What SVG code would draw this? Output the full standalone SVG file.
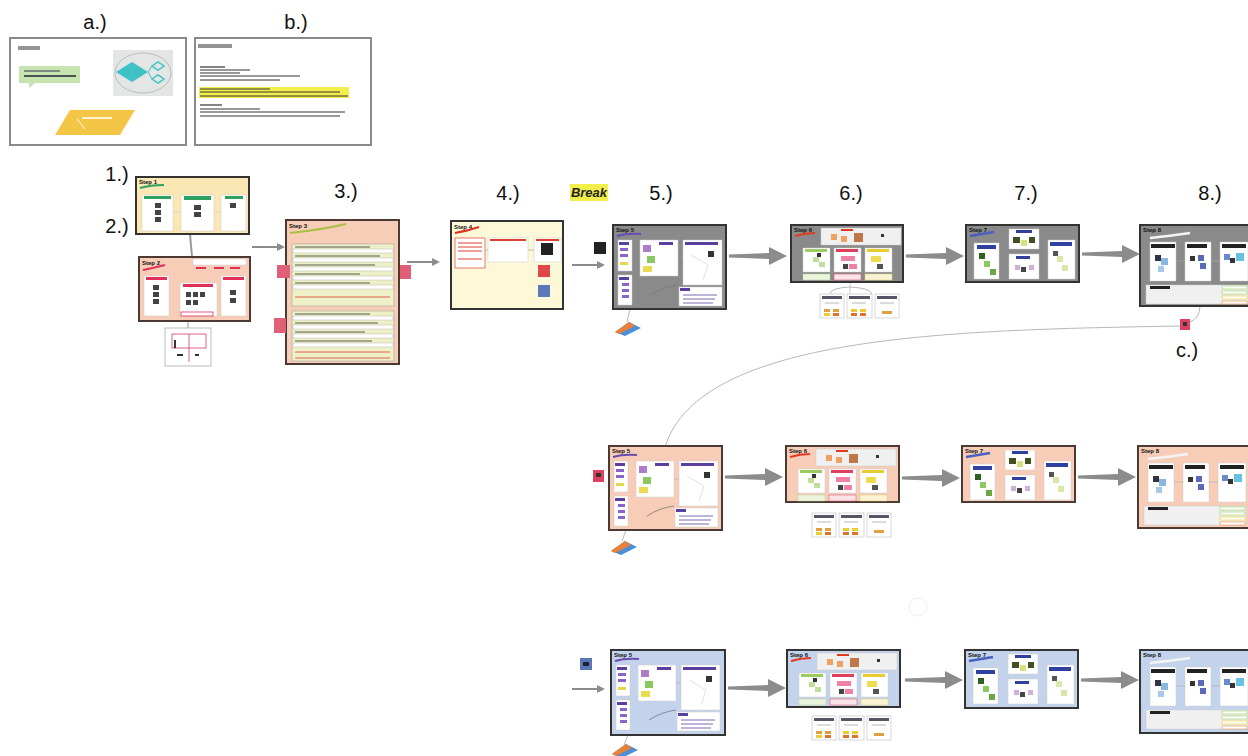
<svg xmlns="http://www.w3.org/2000/svg" xmlns:xlink="http://www.w3.org/1999/xlink" width="1248" height="756" viewBox="0 0 1248 756">
<style>
.lbl{font-family:"Liberation Sans",Arial,sans-serif;font-size:20px;fill:#111;text-anchor:middle}
.st{font-family:"Liberation Sans",Arial,sans-serif;font-size:6px;font-weight:bold;fill:#111}
.slide{fill:#fff;stroke:#8a8a8a;stroke-width:2}
.gray{fill:#8a8a8a;stroke:#333;stroke-width:2}
.salmon{fill:#f7cdb8;stroke:#4a3a33;stroke-width:2}
.blue{fill:#c4d3ec;stroke:#333;stroke-width:2}
.yel{fill:#fbe7b3;stroke:#333;stroke-width:2}
.pyel{fill:#fdf8d8;stroke:#333;stroke-width:2}
.pw{fill:#fff;stroke:#ccc;stroke-width:0.5}
.pl{fill:#f0f0f0;stroke:#ccc;stroke-width:0.5}
.conn{fill:none;stroke:#b8b8b8;stroke-width:1}
.arr{fill:#8c8c8c}
.txl{stroke:#333;stroke-width:1.2}
</style>
<defs>
<path id="bigarrow" d="M0,-1.5 L40,-3 L40,-9 L58,0 L40,9 L40,3 L0,1.5Z"/>
<path id="smallarrow" d="M0,-1 L25,-1 L25,-4 L33,0 L25,4 L25,1 L0,1Z"/>
<symbol id="in5" overflow="visible">
<path d="M4,11 q10,-3 24,-2" stroke="#6b4bb0" stroke-width="2" fill="none"/>
<rect class="pw" x="5" y="15" width="14" height="31"/>
<rect x="6" y="17" width="10" height="3" fill="#5a3f9e"/><rect x="7" y="23" width="8" height="3" fill="#8a64c8"/><rect x="7" y="29" width="8" height="3" fill="#8a64c8"/><rect x="7" y="37" width="8" height="3" fill="#e8d84a"/>
<rect class="pw" x="5" y="50" width="14" height="30"/>
<rect x="6" y="52" width="10" height="3" fill="#5a3f9e"/><rect x="9" y="58" width="7" height="3" fill="#8a64c8"/><rect x="9" y="64" width="7" height="3" fill="#8a64c8"/><rect x="9" y="70" width="7" height="3" fill="#8a64c8"/>
<rect class="pw" x="27" y="15" width="38" height="36"/>
<rect x="30" y="20" width="8" height="7" fill="#b07cc8"/><rect x="34" y="31" width="8" height="7" fill="#8cc860"/><rect x="30" y="41" width="9" height="6" fill="#eadb50"/>
<rect x="46" y="17" width="14" height="3" fill="#5a3f9e"/>
<rect class="pw" x="70" y="15" width="39" height="45"/>
<rect x="72" y="17" width="33" height="3" fill="#5a3f9e"/><rect x="95" y="26" width="6" height="6" fill="#333"/>
<path d="M78,30 L95,40 L90,55" stroke="#ccc" stroke-width="0.6" fill="none"/>
<rect class="pw" x="66" y="62" width="43" height="19"/>
<rect x="67" y="63" width="10" height="3" fill="#5a3f9e"/>
<line x1="70" y1="70" x2="104" y2="70" stroke="#5a3f9e" stroke-width="0.8"/><line x1="70" y1="74" x2="102" y2="74" stroke="#5a3f9e" stroke-width="0.8"/><line x1="70" y1="78" x2="100" y2="78" stroke="#5a3f9e" stroke-width="0.8"/>
<path d="M38,70 Q50,62 65,60" stroke="#777" stroke-width="0.8" fill="none"/>
<line x1="65" y1="33" x2="70" y2="33" stroke="#aaa" stroke-width="0.6"/>
</symbol>
<symbol id="in6" overflow="visible">
<path d="M4,11 q10,-3 20,-3" stroke="#e03a20" stroke-width="2" fill="none"/>
<rect class="pl" x="30" y="3" width="80" height="17"/>
<rect x="50" y="4" width="12" height="2" fill="#e03a20"/>
<rect x="40" y="9" width="6" height="6" fill="#f0a060"/><rect x="50" y="11" width="6" height="6" fill="#f0a060"/><rect x="63" y="8" width="9" height="9" fill="#c0784a"/><rect x="90" y="9" width="3" height="3" fill="#333"/>
<rect class="pw" x="12" y="23" width="27" height="24"/><rect class="pw" x="43" y="23" width="27" height="24"/><rect class="pw" x="74" y="23" width="27" height="24"/>
<rect x="14" y="24" width="22" height="3" fill="#9ccc60"/><rect x="45" y="24" width="22" height="3" fill="#e04060"/><rect x="76" y="24" width="22" height="3" fill="#e8cc30"/>
<rect x="22" y="32" width="6" height="5" fill="#bfe09a"/><rect x="28" y="37" width="6" height="5" fill="#bfe09a"/><rect x="26" y="28" width="4" height="4" fill="#333"/>
<rect x="50" y="31" width="8" height="5" fill="#f080a8"/><rect x="58" y="31" width="6" height="5" fill="#f080a8"/><rect x="52" y="39" width="5" height="5" fill="#444"/><rect x="58" y="39" width="8" height="5" fill="#f080a8"/>
<rect x="80" y="31" width="10" height="6" fill="#f0dc50"/><rect x="86" y="39" width="6" height="5" fill="#555"/>
<rect x="12" y="49" width="27" height="6" fill="#eaf4dc" stroke="#b8d89a" stroke-width="0.5"/><rect x="43" y="49" width="27" height="6" fill="#fbe4e8" stroke="#e06070" stroke-width="0.6"/><rect x="74" y="49" width="27" height="6" fill="#fbf4d4" stroke="#e0cc70" stroke-width="0.5"/>
</symbol>
<symbol id="in7" overflow="visible">
<path d="M4,11 q12,-2 24,-4" stroke="#4a5fc0" stroke-width="2.5" fill="none"/>
<rect class="pw" x="8" y="18" width="25" height="36"/><rect x="11" y="20" width="19" height="4" fill="#3040a0"/>
<rect x="13" y="28" width="6" height="6" fill="#306020"/><rect x="18" y="36" width="6" height="6" fill="#8cc860"/><rect x="24" y="44" width="6" height="6" fill="#6aa840"/>
<rect class="pw" x="43" y="4" width="30" height="20"/><rect x="50" y="5" width="16" height="3" fill="#3040a0"/>
<rect x="47" y="12" width="7" height="6" fill="#405020"/><rect x="55" y="15" width="6" height="6" fill="#d8e080"/><rect x="63" y="12" width="6" height="6" fill="#405020"/>
<rect class="pw" x="43" y="29" width="30" height="25"/><rect x="50" y="31" width="14" height="3" fill="#3040a0"/>
<rect x="49" y="40" width="5" height="5" fill="#d0b0d8"/><rect x="55" y="42" width="5" height="5" fill="#444"/><rect x="63" y="40" width="5" height="5" fill="#d0b0d8"/>
<rect class="pw" x="82" y="15" width="27" height="39"/><rect x="84" y="17" width="22" height="4" fill="#3040a0"/>
<rect x="87" y="26" width="5" height="5" fill="#555"/><rect x="91" y="31" width="6" height="6" fill="#d8e8a8"/><rect x="96" y="40" width="6" height="6" fill="#d8e8a8"/>
</symbol>
<symbol id="in8" overflow="visible">
<path d="M10,13 q20,-2 40,-5" stroke="#f4f4f4" stroke-width="2.5" fill="none"/>
<rect class="pw" x="10" y="17" width="26" height="39"/><rect class="pw" x="45" y="17" width="26" height="39"/><rect class="pw" x="80" y="17" width="28" height="39"/>
<rect x="11" y="19" width="24" height="4" fill="#222"/><rect x="47" y="19" width="20" height="4" fill="#222"/><rect x="82" y="19" width="24" height="4" fill="#222"/>
<rect x="15" y="30" width="6" height="6" fill="#334"/><rect x="21" y="33" width="7" height="7" fill="#88b8e0"/><rect x="18" y="41" width="6" height="6" fill="#a8c8e8"/>
<rect x="50" y="31" width="5" height="5" fill="#333"/><rect x="58" y="30" width="6" height="6" fill="#5a6ab8"/><rect x="60" y="38" width="6" height="6" fill="#5a6ab8"/>
<rect x="84" y="29" width="6" height="6" fill="#6a8ad0"/><rect x="90" y="33" width="5" height="5" fill="#333"/><rect x="96" y="28" width="8" height="8" fill="#6ac0e0"/>
<line x1="36" y1="36" x2="45" y2="36" stroke="#aaa" stroke-width="0.6"/><line x1="71" y1="36" x2="80" y2="36" stroke="#aaa" stroke-width="0.6"/>
<rect class="pl" x="6" y="60" width="102" height="19"/><rect x="10" y="61" width="20" height="3" fill="#222"/>
<rect x="82" y="61" width="25" height="3" fill="#fff" stroke="#9ccc60" stroke-width="0.6"/><rect x="82" y="66" width="25" height="3" fill="#fff" stroke="#9ccc60" stroke-width="0.6"/><rect x="82" y="71" width="25" height="3" fill="#fff" stroke="#e8cc30" stroke-width="0.6"/><rect x="82" y="76" width="25" height="3" fill="#fff" stroke="#e09050" stroke-width="0.6"/>
</symbol>
<symbol id="cards" overflow="visible">
<rect x="0" y="0" width="24" height="24" fill="#fff" stroke="#bbb" stroke-width="0.6"/><rect x="27" y="0" width="25" height="24" fill="#fff" stroke="#bbb" stroke-width="0.6"/><rect x="55" y="0" width="24" height="24" fill="#fff" stroke="#bbb" stroke-width="0.6"/>
<rect x="2" y="2" width="20" height="3" fill="#556"/><rect x="29" y="2" width="21" height="3" fill="#556"/><rect x="57" y="2" width="20" height="3" fill="#556"/>
<rect x="4" y="15" width="6" height="3" fill="#e0a040"/><rect x="13" y="15" width="6" height="3" fill="#e0a040"/><rect x="4" y="19" width="6" height="3" fill="#e8cc30"/><rect x="13" y="19" width="6" height="3" fill="#e07030"/>
<rect x="31" y="15" width="6" height="3" fill="#e8cc30"/><rect x="40" y="15" width="6" height="3" fill="#e8cc30"/><rect x="31" y="19" width="6" height="3" fill="#e07030"/><rect x="40" y="19" width="6" height="3" fill="#e07030"/>
<rect x="62" y="17" width="10" height="3" fill="#e0a040"/>
<line x1="5" y1="9" x2="19" y2="9" stroke="#888" stroke-width="0.6"/><line x1="32" y1="9" x2="46" y2="9" stroke="#888" stroke-width="0.6"/><line x1="60" y1="9" x2="74" y2="9" stroke="#888" stroke-width="0.6"/>
</symbol>
<symbol id="kite" overflow="visible">
<path d="M0,10 L14,0 L26,6 L10,14Z" fill="#4a90d8"/><path d="M0,10 L14,0 L20,4 L4,12Z" fill="#e8803a"/>
</symbol>
</defs>

<g id="labels">
<text class="lbl" x="95" y="29">a.)</text>
<text class="lbl" x="296" y="29">b.)</text>
<text class="lbl" x="117" y="181">1.)</text>
<text class="lbl" x="117" y="233">2.)</text>
<text class="lbl" x="346" y="198">3.)</text>
<text class="lbl" x="508" y="200">4.)</text>
<rect x="570" y="184" width="38" height="17" fill="#f2ee4a"/>
<text x="589" y="197" font-family="Liberation Sans,Arial,sans-serif" font-size="13" font-style="italic" font-weight="bold" fill="#222" text-anchor="middle">Break</text>
<text class="lbl" x="661" y="200">5.)</text>
<text class="lbl" x="851" y="200">6.)</text>
<text class="lbl" x="1026" y="200">7.)</text>
<text class="lbl" x="1210" y="200">8.)</text>
<text class="lbl" x="1187" y="357">c.)</text>
</g>

<g id="slide-a">
<rect class="slide" x="10" y="38" width="176" height="107"/>
<rect x="18" y="46" width="22" height="4" fill="#666" opacity="0.7"/>
<path d="M19,66 h61 v17 h-45 l-6,5 v-5 h-10z" fill="#c6e3b0"/>
<line x1="24" y1="71" x2="60" y2="71" stroke="#335" stroke-width="1.2"/>
<line x1="24" y1="76" x2="76" y2="76" stroke="#223" stroke-width="1.6"/>
<rect x="113" y="50" width="60" height="46" fill="#e4e6e6"/>
<ellipse cx="143" cy="73" rx="28" ry="20" fill="none" stroke="#bbb" stroke-width="1"/>
<path d="M116,72 L132,62 L148,72 L132,82Z" fill="#3ec2c6"/>
<path d="M152,66 l6,-4 l6,4 l-6,4z M152,79 l6,-4 l6,4 l-6,4z" fill="none" stroke="#3ec2c6" stroke-width="1.5"/>
<path d="M148,72 L152,66 M148,72 L152,79" stroke="#3ec2c6" stroke-width="1"/>
<path d="M70,110 L135,110 L120,135 L55,135Z" fill="#f4c646"/>
<line x1="82" y1="118" x2="112" y2="118" stroke="#fff" stroke-width="1.5"/>
<line x1="77" y1="119" x2="85" y2="129" stroke="#fff" stroke-width="1"/>
</g>

<g id="slide-b">
<rect class="slide" x="195" y="38" width="176" height="107"/>
<rect x="198" y="44" width="34" height="4" fill="#666" opacity="0.7"/>
<g class="txl">
<line x1="200" y1="67" x2="225" y2="67"/><line x1="200" y1="70" x2="250" y2="70"/><line x1="200" y1="73" x2="240" y2="73"/><line x1="200" y1="76" x2="300" y2="76"/><line x1="200" y1="80" x2="280" y2="80"/>
</g>
<rect x="199" y="87" width="150" height="11" fill="#f2ee4a"/>
<g class="txl">
<line x1="200" y1="89" x2="270" y2="89"/><line x1="200" y1="92" x2="340" y2="92"/><line x1="200" y1="96" x2="348" y2="96"/>
<line x1="200" y1="105" x2="222" y2="105"/><line x1="200" y1="109" x2="260" y2="109"/><line x1="200" y1="112" x2="345" y2="112"/><line x1="200" y1="116" x2="340" y2="116"/>
</g>
</g>

<g id="connectors">
<line x1="190" y1="234" x2="192" y2="257" stroke="#999" stroke-width="2"/>
<line x1="188" y1="321" x2="188" y2="329" stroke="#999" stroke-width="1"/>
<use href="#smallarrow" class="arr" transform="translate(252,247)"/>
<use href="#smallarrow" class="arr" transform="translate(407,262)"/>
<use href="#smallarrow" class="arr" transform="translate(572,265)"/>
<use href="#bigarrow" class="arr" transform="translate(729,256)"/>
<use href="#bigarrow" class="arr" transform="translate(906,256)"/>
<use href="#bigarrow" class="arr" transform="translate(1082,254)"/>
<path class="conn" d="M1200,306 Q1200,318 1190,322"/>
<path class="conn" d="M1180,326 C950,330 700,335 665,447" stroke-width="1.2"/>
<path class="conn" d="M630,309 L627,322"/>
<use href="#bigarrow" class="arr" transform="translate(725,477)"/>
<use href="#bigarrow" class="arr" transform="translate(902,478)"/>
<use href="#bigarrow" class="arr" transform="translate(1078,477)"/>
<path class="conn" d="M626,530 L622,541"/>
<line x1="850" y1="282" x2="850" y2="294" stroke="#aaa" stroke-width="0.6"/>
<path class="conn" d="M850,287 Q830,288 830,294 M850,287 Q870,288 872,294" stroke-width="0.6"/>
<use href="#smallarrow" class="arr" transform="translate(572,689)"/>
<use href="#bigarrow" class="arr" transform="translate(728,688)"/>
<use href="#bigarrow" class="arr" transform="translate(905,680)"/>
<use href="#bigarrow" class="arr" transform="translate(1081,680)"/>
<path class="conn" d="M628,735 L624,745"/>
</g>

<g id="step1">
<rect class="yel" x="136" y="177" width="113" height="57"/>
<text class="st" x="139" y="184">Step 1</text>
<path d="M140,188 q10,-3 24,-3" stroke="#2ea060" stroke-width="2" fill="none"/>
<rect class="pw" x="142" y="195" width="31" height="36"/><rect class="pw" x="181" y="195" width="33" height="36"/><rect class="pw" x="221" y="195" width="25" height="36"/>
<rect x="144" y="196" width="27" height="3" fill="#2ea060"/><rect x="184" y="196" width="27" height="4" fill="#2ea060"/><rect x="225" y="196" width="18" height="3" fill="#2ea060"/>
<rect x="155" y="203" width="6" height="5" fill="#444"/><rect x="155" y="210" width="6" height="5" fill="#444"/><rect x="155" y="217" width="6" height="5" fill="#444"/>
<rect x="194" y="205" width="7" height="5" fill="#444"/><rect x="194" y="212" width="7" height="5" fill="#444"/>
<rect x="230" y="203" width="6" height="5" fill="#444"/>
<line x1="173" y1="212" x2="181" y2="212" stroke="#ccc" stroke-width="0.6"/><line x1="214" y1="212" x2="221" y2="212" stroke="#ccc" stroke-width="0.6"/>
</g>

<g id="step2">
<rect class="salmon" x="139" y="257" width="111" height="64"/>
<text class="st" x="142" y="265">Step 2</text>
<path d="M143,270 q10,-2 22,-5" stroke="#e0305a" stroke-width="2" fill="none"/>
<rect class="pw" x="193" y="259" width="53" height="6"/>
<rect x="196" y="267" width="10" height="2" fill="#e0305a"/><rect x="214" y="267" width="10" height="2" fill="#e0305a"/><rect x="230" y="267" width="10" height="2" fill="#e0305a"/>
<rect class="pw" x="144" y="276" width="25" height="40"/><rect class="pw" x="180" y="283" width="37" height="33"/><rect class="pw" x="221" y="276" width="25" height="40"/>
<rect x="146" y="277" width="21" height="3" fill="#e0305a"/><rect x="183" y="284" width="30" height="3" fill="#e0305a"/><rect x="223" y="277" width="21" height="3" fill="#e0305a"/>
<rect x="153" y="285" width="6" height="5" fill="#444"/><rect x="153" y="292" width="6" height="5" fill="#444"/><rect x="153" y="299" width="6" height="5" fill="#444"/>
<rect x="186" y="292" width="5" height="5" fill="#444"/><rect x="193" y="292" width="5" height="5" fill="#444"/><rect x="200" y="292" width="5" height="5" fill="#444"/><rect x="186" y="300" width="5" height="5" fill="#444"/><rect x="193" y="300" width="5" height="5" fill="#444"/>
<rect x="230" y="290" width="6" height="5" fill="#444"/><rect x="230" y="298" width="6" height="5" fill="#444"/>
<rect x="181" y="312" width="32" height="4" fill="#fff" stroke="#e0305a" stroke-width="0.8"/>
</g>
<g id="step2-card">
<rect x="165" y="328" width="46" height="38" fill="#fff" stroke="#aaa" stroke-width="0.8"/>
<rect x="172" y="334" width="34" height="14" fill="#fff" stroke="#d04060" stroke-width="0.8"/>
<line x1="189" y1="334" x2="189" y2="362" stroke="#d04060" stroke-width="0.8"/>
<rect x="177" y="354" width="6" height="2" fill="#333"/><rect x="195" y="354" width="4" height="2" fill="#333"/>
<rect x="174" y="340" width="2" height="8" fill="#333"/>
</g>

<g id="step3">
<rect class="salmon" x="286" y="220" width="113" height="144"/>
<text class="st" x="289" y="228">Step 3</text>
<path d="M290,233 q30,-3 56,-9" stroke="#a8c040" stroke-width="2" fill="none"/>
<rect x="292" y="244" width="102" height="62" fill="#eef0c8" stroke="#999" stroke-width="0.5"/>
<rect x="292" y="311" width="102" height="50" fill="#eef0c8" stroke="#999" stroke-width="0.5"/>
<g fill="#fff" stroke="#aaa" stroke-width="0.4">
<rect x="293" y="249" width="100" height="4"/><rect x="293" y="258" width="100" height="4"/><rect x="293" y="267" width="100" height="4"/><rect x="293" y="276" width="100" height="4"/><rect x="293" y="285" width="100" height="4"/>
<rect x="293" y="316" width="100" height="4"/><rect x="293" y="325" width="100" height="4"/><rect x="293" y="334" width="100" height="4"/><rect x="293" y="343" width="100" height="4"/>
</g>
<g stroke="#333" stroke-width="0.8">
<line x1="295" y1="247" x2="370" y2="247"/><line x1="295" y1="256" x2="380" y2="256"/><line x1="295" y1="265" x2="375" y2="265"/><line x1="295" y1="274" x2="360" y2="274"/><line x1="295" y1="283" x2="370" y2="283"/>
<line x1="295" y1="314" x2="370" y2="314"/><line x1="295" y1="323" x2="378" y2="323"/><line x1="295" y1="332" x2="365" y2="332"/><line x1="295" y1="341" x2="372" y2="341"/>
</g>
<g stroke="#e04030" stroke-width="0.8">
<line x1="295" y1="297" x2="390" y2="297"/><line x1="295" y1="352" x2="390" y2="352"/><line x1="295" y1="358" x2="390" y2="358"/>
</g>
</g>
<g id="sticky3a"><rect x="277" y="265" width="13" height="13" fill="#e06078"/></g>
<g id="sticky3b"><rect x="400" y="265" width="11" height="14" fill="#e06078"/></g>
<g id="sticky3c"><rect x="274" y="318" width="12" height="15" fill="#e06078"/></g>

<g id="step4">
<rect class="pyel" x="451" y="221" width="112" height="88"/>
<text class="st" x="454" y="229">Step 4</text>
<path d="M455,233 q12,-2 24,-6" stroke="#e03020" stroke-width="2" fill="none"/>
<rect x="455" y="238" width="30" height="30" fill="#fff" stroke="#e04030" stroke-width="0.7"/>
<rect class="pw" x="488" y="238" width="40" height="24"/>
<rect class="pw" x="534" y="238" width="27" height="24"/>
<rect x="490" y="239" width="36" height="2" fill="#e04030"/><rect x="536" y="239" width="23" height="2" fill="#e04030"/>
<line x1="458" y1="243" x2="482" y2="243" stroke="#e04030"/><line x1="458" y1="247" x2="482" y2="247" stroke="#e04030"/><line x1="458" y1="251" x2="482" y2="251" stroke="#e04030"/><line x1="458" y1="259" x2="482" y2="259" stroke="#e04030"/>
<line x1="485" y1="250" x2="488" y2="250" stroke="#bbb"/><line x1="528" y1="250" x2="534" y2="250" stroke="#bbb"/>
<rect x="541" y="243" width="12" height="12" fill="#222"/>
<rect x="538" y="265" width="12" height="12" fill="#e04848"/>
<rect x="538" y="285" width="12" height="12" fill="#5a78b8"/>
</g>

<g id="note-break"><rect x="594" y="242" width="12" height="12" fill="#222"/></g>
<g id="r1-step5">
<rect class="gray" x="613" y="225" width="113" height="84"/>
<text class="st" x="616" y="232">Step 5</text>
<use href="#in5" transform="translate(613,225)"/>
</g>
<g id="r1-kite"><use href="#kite" transform="translate(615,322)"/></g>
<g id="r1-step6">
<rect class="gray" x="791" y="225" width="112" height="57"/>
<text class="st" x="794" y="232">Step 6</text>
<use href="#in6" transform="translate(791,225)"/>
</g>
<g id="r1-cards"><use href="#cards" transform="translate(820,294)"/></g>
<g id="r1-step7">
<rect class="gray" x="966" y="225" width="113" height="57"/>
<text class="st" x="969" y="232">Step 7</text>
<use href="#in7" transform="translate(966,225)"/>
</g>
<g id="r1-step8">
<rect class="gray" x="1140" y="225" width="112" height="81"/>
<text class="st" x="1143" y="232">Step 8</text>
<use href="#in8" transform="translate(1140,225)"/>
</g>
<g id="note-c"><rect x="1180" y="319" width="10" height="11" fill="#e04060"/><rect x="1183" y="322" width="4" height="4" fill="#333"/></g>

<g id="note-r2"><rect x="593" y="470" width="11" height="12" fill="#e04060"/><rect x="596" y="473" width="5" height="4" fill="#333"/></g>
<g id="r2-step5">
<rect class="salmon" x="609" y="446" width="113" height="84"/>
<text class="st" x="612" y="453">Step 5</text>
<use href="#in5" transform="translate(609,446)"/>
</g>
<g id="r2-kite"><use href="#kite" transform="translate(611,541)"/></g>
<g id="r2-step6">
<rect class="salmon" x="786" y="446" width="113" height="56"/>
<text class="st" x="789" y="453">Step 6</text>
<use href="#in6" transform="translate(786,446)"/>
</g>
<g id="r2-cards"><use href="#cards" transform="translate(812,513)"/></g>
<g id="r2-step7">
<rect class="salmon" x="962" y="446" width="113" height="56"/>
<text class="st" x="965" y="453">Step 7</text>
<use href="#in7" transform="translate(962,446)"/>
</g>
<g id="r2-step8">
<rect class="salmon" x="1138" y="446" width="114" height="82"/>
<text class="st" x="1141" y="453">Step 8</text>
<use href="#in8" transform="translate(1138,446)"/>
</g>
<g id="faint-circle"><circle cx="918" cy="607" r="9" fill="none" stroke="#eee" stroke-width="1"/></g>

<g id="note-r3"><rect x="580" y="658" width="12" height="12" fill="#5a78b8"/><rect x="583" y="662" width="6" height="4" fill="#223"/></g>
<g id="r3-step5">
<rect class="blue" x="611" y="650" width="114" height="85"/>
<text class="st" x="614" y="657">Step 5</text>
<use href="#in5" transform="translate(611,650)"/>
</g>
<g id="r3-kite"><use href="#kite" transform="translate(612,744)"/></g>
<g id="r3-step6">
<rect class="blue" x="787" y="650" width="113" height="57"/>
<text class="st" x="790" y="657">Step 6</text>
<use href="#in6" transform="translate(787,650)"/>
</g>
<g id="r3-cards"><use href="#cards" transform="translate(812,716)"/></g>
<g id="r3-step7">
<rect class="blue" x="965" y="650" width="113" height="58"/>
<text class="st" x="968" y="657">Step 7</text>
<use href="#in7" transform="translate(965,650)"/>
</g>
<g id="r3-step8">
<rect class="blue" x="1140" y="650" width="112" height="83"/>
<text class="st" x="1143" y="657">Step 8</text>
<use href="#in8" transform="translate(1140,650)"/>
</g>
</svg>
